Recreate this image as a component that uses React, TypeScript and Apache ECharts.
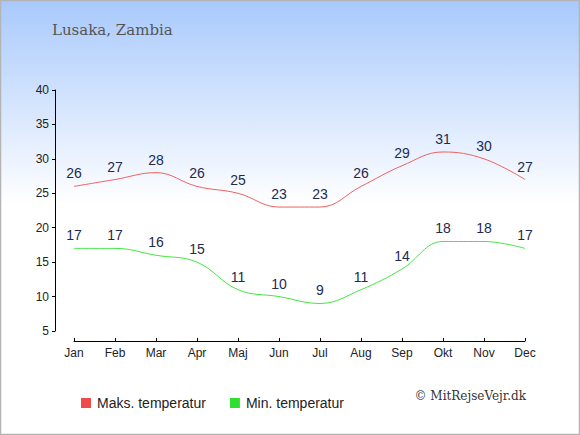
import React, { useEffect, useRef } from "react";
import * as echarts from "echarts";

const months = ["Jan", "Feb", "Mar", "Apr", "Maj", "Jun", "Jul", "Aug", "Sep", "Okt", "Nov", "Dec"];
const maxTemps = [26, 27, 28, 26, 25, 23, 23, 26, 29, 31, 30, 27];
const minTemps = [17, 17, 16, 15, 11, 10, 9, 11, 14, 18, 18, 17];
const maxName = "Maks. temperatur";
const minName = "Min. temperatur";
const titleText = "Lusaka, Zambia";
const creditText = "© MitRejseVejr.dk";

const sans = "'Liberation Sans', Arial, sans-serif";
const serif = "'DejaVu Serif', Georgia, serif";

export default function App() {
  const ref = useRef<HTMLDivElement>(null);
  useEffect(() => {
    if (!ref.current) return;
    const chart = echarts.init(ref.current, undefined, { renderer: "svg" });
    const labelCfg = {
      show: true,
      position: "top" as const,
      distance: 6,
      color: "#1c2b4f",
      fontSize: 14,
      fontFamily: sans,
    };
    chart.setOption({
      animation: false,
      backgroundColor: {
        type: "linear",
        x: 0,
        y: 0,
        x2: 0,
        y2: 1,
        colorStops: [
          { offset: 0, color: "#a8c9fc" },
          { offset: 0.47, color: "#ffffff" },
          { offset: 1, color: "#ffffff" },
        ],
      },
      graphic: [
        {
          type: "rect",
          shape: { x: 0.5, y: 0.5, width: 579, height: 434 },
          style: { fill: "none", stroke: "#b4b4b4", lineWidth: 1.5 },
          silent: true,
        },
        {
          type: "text",
          left: 52,
          top: 22,
          style: { text: titleText, fill: "#555555", font: `15px ${serif}` },
        },
        {
          type: "text",
          right: 54,
          top: 390,
          style: { text: creditText, fill: "#333333", font: `12px ${serif}` },
        },
      ],
      legend: {
        left: 76,
        top: 391,
        itemWidth: 10,
        itemHeight: 10,
        itemGap: 24,
        icon: "rect",
        textStyle: { fontSize: 14, color: "#222", fontFamily: sans, padding: [0, 0, 0, 1] },
        data: [maxName, minName],
      },
      grid: { left: 74, right: 55, top: 90, bottom: 104 },
      xAxis: {
        type: "category",
        data: months,
        boundaryGap: false,
        offset: 10,
        axisLine: { lineStyle: { color: "#000", width: 1 } },
        axisTick: { show: true, inside: true, length: 3, lineStyle: { color: "#000" } },
        axisLabel: { color: "#222", fontSize: 12, fontFamily: sans, margin: 6 },
        splitLine: { show: false },
      },
      yAxis: {
        type: "value",
        min: 5,
        max: 40,
        interval: 5,
        offset: 19,
        axisLine: { show: true, lineStyle: { color: "#000", width: 1 } },
        axisTick: { show: true, length: 3, lineStyle: { color: "#000" } },
        axisLabel: { color: "#222", fontSize: 12, fontFamily: sans, margin: 6 },
        splitLine: { show: false },
      },
      series: [
        {
          name: maxName,
          type: "line",
          data: maxTemps,
          smooth: 0.4,
          symbolSize: 0,
          color: "#f04a4a",
          lineStyle: { width: 1, color: "#f06060" },
          label: labelCfg,
        },
        {
          name: minName,
          type: "line",
          data: minTemps,
          smooth: 0.4,
          symbolSize: 0,
          color: "#30e030",
          lineStyle: { width: 1, color: "#44e644" },
          label: labelCfg,
        },
      ],
    });
    return () => chart.dispose();
  }, []);
  return (
    <div
      ref={ref}
      style={{ position: "fixed", left: 0, top: 0, width: 580, height: 435 }}
    />
  );
}
